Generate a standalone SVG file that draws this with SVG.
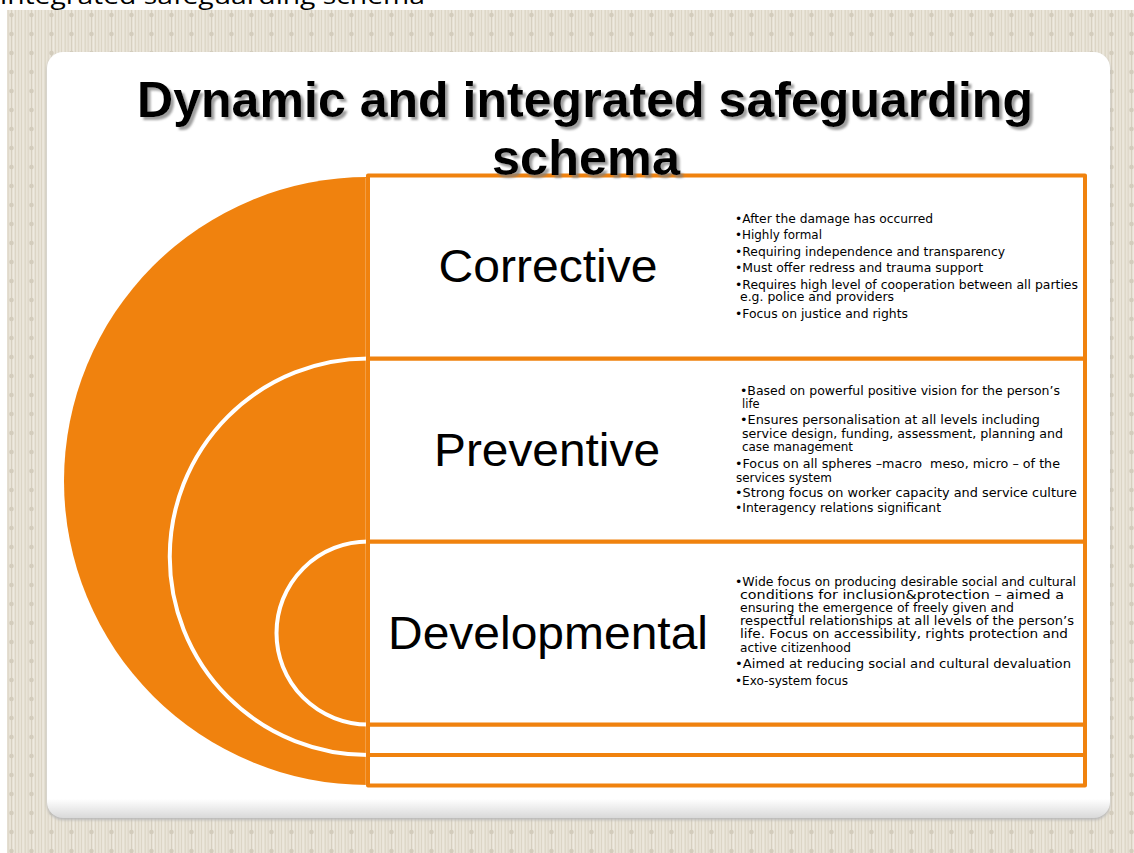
<svg xmlns="http://www.w3.org/2000/svg" width="1134" height="853" viewBox="0 0 1134 853">
  <defs>
    <pattern id="linen" patternUnits="userSpaceOnUse" x="0" y="0" width="20" height="19">
      <rect width="20" height="19" fill="#E9E4D8"/>
      <rect x="1" width="1.2" height="19" fill="#DCD5C5"/>
      <rect x="2.6" width="0.8" height="19" fill="#F1EDE4"/>
      <rect x="4.6" width="1.2" height="19" fill="#DCD5C5"/>
      <rect x="7.6" width="1.2" height="19" fill="#DED7C8"/>
      <rect x="11" width="1.1" height="19" fill="#D6CFBF"/>
      <rect x="13.3" width="0.8" height="19" fill="#F1EDE4"/>
      <rect x="14.8" width="1.2" height="19" fill="#DCD5C5"/>
      <rect x="18" width="1.2" height="19" fill="#DED7C8"/>
      <circle cx="11.5" cy="15" r="2.3" fill="#D3CCBC"/>
    </pattern>
    <linearGradient id="panelFill" x1="0" y1="0" x2="0" y2="1">
      <stop offset="0" stop-color="#FFFFFF"/>
      <stop offset="0.975" stop-color="#FFFFFF"/>
      <stop offset="1" stop-color="#D9D9D9"/>
    </linearGradient>
    <filter id="panelShadow" x="-5%" y="-5%" width="110%" height="110%">
      <feGaussianBlur stdDeviation="1.5"/>
    </filter>
    <filter id="titleShadow" x="-5%" y="-20%" width="110%" height="150%">
      <feGaussianBlur in="SourceAlpha" stdDeviation="1.2"/>
      <feOffset dx="2.5" dy="2.5" result="b"/>
      <feFlood flood-color="#7F7F7F" flood-opacity="0.75"/>
      <feComposite in2="b" operator="in" result="s"/>
      <feMerge><feMergeNode in="s"/><feMergeNode in="SourceGraphic"/></feMerge>
    </filter>
    <style>
      .title { font-family: "Liberation Sans", Arial, sans-serif; font-weight: bold; font-size: 50px; fill: #000; text-anchor: middle; }
      .label { font-family: "Liberation Sans", Arial, sans-serif; font-size: 46px; fill: #000; text-anchor: middle; }
      .bul { font-family: "DejaVu Sans", Verdana, sans-serif; font-size: 11.5px; fill: #000; }
      .box { fill: #FFFFFF; stroke: #F0820E; stroke-width: 4; stroke-linejoin: round; }
      .ring { fill: #F0820E; stroke: #FFFFFF; stroke-width: 4; }
    </style>
  </defs>

  <g id="background">
    <rect width="1134" height="853" fill="#FFFFFF"/>
    <rect x="7" y="10" width="1127" height="843" fill="url(#linen)"/>
    <text x="0" y="4" font-family="'Open Sans', 'Liberation Sans', sans-serif" font-size="24" fill="#000" textLength="425" lengthAdjust="spacingAndGlyphs">integrated safeguarding schema</text>
  </g>

  <g id="panel">
    <rect x="47" y="54" width="1063" height="766" rx="16" fill="#B8B8B8" filter="url(#panelShadow)"/>
    <rect x="47" y="52" width="1063" height="766" rx="16" fill="url(#panelFill)"/>
  </g>

  <g id="rings">
    <circle cx="368" cy="481" r="304" fill="#F0820E"/>
    <circle class="ring" cx="368" cy="556.75" r="198.25"/>
    <circle class="ring" cx="368" cy="633" r="91.5"/>
    <line x1="366" y1="178" x2="366" y2="785" stroke="#FFFFFF" stroke-opacity="0.45" stroke-width="1"/>
  </g>

  <g id="connectors"></g>

  <g id="strips">
    <rect class="box" x="368" y="724.5" width="717" height="30.5"/>
    <rect class="box" x="368" y="755" width="717" height="30.5"/>
  </g>

  <g id="node-developmental">
    <rect class="box" x="368" y="541.5" width="717" height="183"/>
    <text class="label" x="548" y="649" textLength="320" lengthAdjust="spacingAndGlyphs">Developmental</text>
    <text class="bul" x="735" y="586" textLength="341" lengthAdjust="spacingAndGlyphs">•Wide focus on producing desirable social and cultural</text>
    <text class="bul" x="740" y="599" textLength="324" lengthAdjust="spacingAndGlyphs">conditions for inclusion&amp;protection – aimed a</text>
    <text class="bul" x="740" y="612" textLength="274" lengthAdjust="spacingAndGlyphs">ensuring the emergence of freely given and</text>
    <text class="bul" x="740" y="625" textLength="334" lengthAdjust="spacingAndGlyphs">respectful relationships at all levels of the person’s</text>
    <text class="bul" x="740" y="638" textLength="328" lengthAdjust="spacingAndGlyphs">life. Focus on accessibility, rights protection and</text>
    <text class="bul" x="740" y="652" textLength="111" lengthAdjust="spacingAndGlyphs">active citizenhood</text>
    <text class="bul" x="735" y="668" textLength="336" lengthAdjust="spacingAndGlyphs">•Aimed at reducing social and cultural devaluation</text>
    <text class="bul" x="735" y="685" textLength="113" lengthAdjust="spacingAndGlyphs">•Exo-system focus</text>
  </g>

  <g id="node-preventive">
    <rect class="box" x="368" y="358.5" width="717" height="183"/>
    <text class="label" x="547" y="466" textLength="226" lengthAdjust="spacingAndGlyphs">Preventive</text>
    <text class="bul" x="740" y="395" textLength="320" lengthAdjust="spacingAndGlyphs">•Based on powerful positive vision for the person’s</text>
    <text class="bul" x="742" y="408">life</text>
    <text class="bul" x="740" y="424" textLength="300" lengthAdjust="spacingAndGlyphs">•Ensures personalisation at all levels including</text>
    <text class="bul" x="742" y="438" textLength="321" lengthAdjust="spacingAndGlyphs">service design, funding, assessment, planning and</text>
    <text class="bul" x="742" y="451" textLength="111" lengthAdjust="spacingAndGlyphs">case management</text>
    <text class="bul" x="735" y="468" textLength="325" lengthAdjust="spacingAndGlyphs" xml:space="preserve">•Focus on all spheres –macro  meso, micro – of the</text>
    <text class="bul" x="736" y="482" textLength="96" lengthAdjust="spacingAndGlyphs">services system</text>
    <text class="bul" x="735" y="497" textLength="342" lengthAdjust="spacingAndGlyphs">•Strong focus on worker capacity and service culture</text>
    <text class="bul" x="735" y="512" textLength="206" lengthAdjust="spacingAndGlyphs">•Interagency relations significant</text>
  </g>

  <g id="node-corrective">
    <rect class="box" x="368" y="175.5" width="717" height="183"/>
    <text class="label" x="548" y="282" textLength="219" lengthAdjust="spacingAndGlyphs">Corrective</text>
    <text class="bul" x="735" y="223" textLength="198" lengthAdjust="spacingAndGlyphs">•After the damage has occurred</text>
    <text class="bul" x="735" y="239" textLength="87" lengthAdjust="spacingAndGlyphs">•Highly formal</text>
    <text class="bul" x="735" y="256" textLength="270" lengthAdjust="spacingAndGlyphs">•Requiring independence and transparency</text>
    <text class="bul" x="735" y="272" textLength="248" lengthAdjust="spacingAndGlyphs">•Must offer redress and trauma support</text>
    <text class="bul" x="735" y="289" textLength="343" lengthAdjust="spacingAndGlyphs">•Requires high level of cooperation between all parties</text>
    <text class="bul" x="740" y="301" textLength="154" lengthAdjust="spacingAndGlyphs">e.g. police and providers</text>
    <text class="bul" x="735" y="318" textLength="173" lengthAdjust="spacingAndGlyphs">•Focus on justice and rights</text>
  </g>

  <g id="title" filter="url(#titleShadow)">
    <text class="title" x="585" y="117" textLength="896" lengthAdjust="spacingAndGlyphs">Dynamic and integrated safeguarding</text>
    <text class="title" x="586" y="175" textLength="188" lengthAdjust="spacingAndGlyphs">schema</text>
  </g>
</svg>
